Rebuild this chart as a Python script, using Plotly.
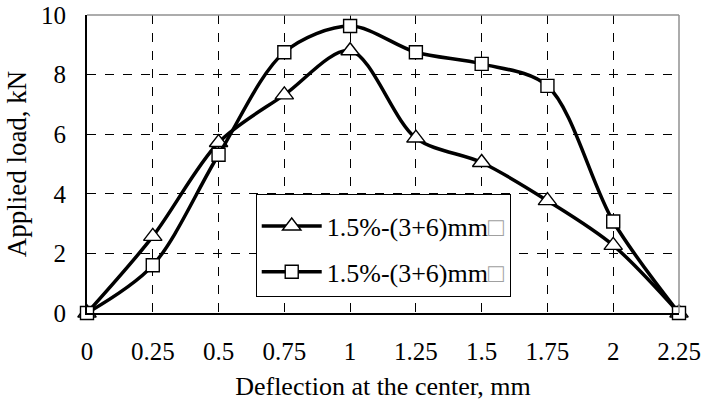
import plotly.graph_objects as go

deflection = [0, 0.25, 0.5, 0.75, 1.0, 1.25, 1.5, 1.75, 2.0, 2.25]
load_triangle = [0, 2.57, 5.72, 7.32, 8.80, 5.87, 5.05, 3.77, 2.27, 0]
load_square = [0, 1.60, 5.31, 8.75, 9.63, 8.75, 8.36, 7.62, 3.07, 0]
series_names = ["1.5%-(3+6)mm", "1.5%-(3+6)mm"]
x_ticks = [0, 0.25, 0.5, 0.75, 1, 1.25, 1.5, 1.75, 2, 2.25]
x_tick_labels = ["0", "0.25", "0.5", "0.75", "1", "1.25", "1.5", "1.75", "2", "2.25"]
y_ticks = [0, 2, 4, 6, 8, 10]

FONT = "Liberation Serif, Times New Roman, serif"
tofu = "<span style='color:#a0a0a0'>□</span>"

fig = go.Figure()
fig.add_trace(go.Scatter(
    x=deflection, y=load_triangle, mode="lines+markers",
    name=series_names[0] + tofu, legendgroup="a",
    line=dict(color="black", width=3.5, shape="spline", smoothing=0.9),
    marker=dict(symbol="triangle-up", size=16, color="white",
                line=dict(color="black", width=1.4)),
    cliponaxis=False,
))
fig.add_trace(go.Scatter(
    x=deflection, y=load_square, mode="lines+markers",
    name=series_names[1] + tofu, legendgroup="b",
    line=dict(color="black", width=3.5, shape="spline", smoothing=0.9),
    marker=dict(symbol="square", size=13, color="white",
                line=dict(color="black", width=1.4)),
    cliponaxis=False,
))

# top and right gray border
fig.add_shape(type="line", xref="paper", yref="paper", x0=0, x1=1, y0=1, y1=1,
              line=dict(color="#909090", width=1.5))
fig.add_shape(type="line", xref="paper", yref="paper", x0=1, x1=1, y0=0, y1=1,
              line=dict(color="#909090", width=1.5))

fig.update_layout(
    width=704, height=401,
    margin=dict(l=87, r=25, t=15, b=88),
    paper_bgcolor="white", plot_bgcolor="white",
    font=dict(family=FONT, color="black", size=25),
    showlegend=True,
    legend=dict(
        x=0.285, y=0.40, xanchor="left", yanchor="top",
        bgcolor="white", bordercolor="black", borderwidth=1,
        font=dict(family=FONT, size=26, color="black"),
        traceorder="grouped", tracegroupgap=9,
        itemwidth=60,
        title=dict(text=" ", font=dict(size=6)),
    ),
    xaxis=dict(
        range=[0, 2.25], tickvals=x_ticks, ticktext=x_tick_labels,
        showgrid=True, gridcolor="black", griddash="dash", gridwidth=0.8,
        showline=True, linecolor="black", linewidth=1.8,
        zeroline=False, ticks="", ticklen=0, automargin=False,
        ticklabelstandoff=15,
        tickfont=dict(family=FONT, size=25, color="black"),
        title=dict(text="Deflection at the center, mm", standoff=13,
                   font=dict(family=FONT, size=26, color="black")),
    ),
    yaxis=dict(
        range=[0, 10], tickvals=y_ticks,
        showgrid=True, gridcolor="black", griddash="dash", gridwidth=0.8,
        showline=True, linecolor="black", linewidth=1.8,
        zeroline=False, ticks="", ticklen=0, automargin=False,
        ticklabelstandoff=14,
        tickfont=dict(family=FONT, size=25, color="black"),
        title=dict(text="Applied load, kN", standoff=7,
                   font=dict(family=FONT, size=27, color="black")),
    ),
)

fig.write_html("out.html")
